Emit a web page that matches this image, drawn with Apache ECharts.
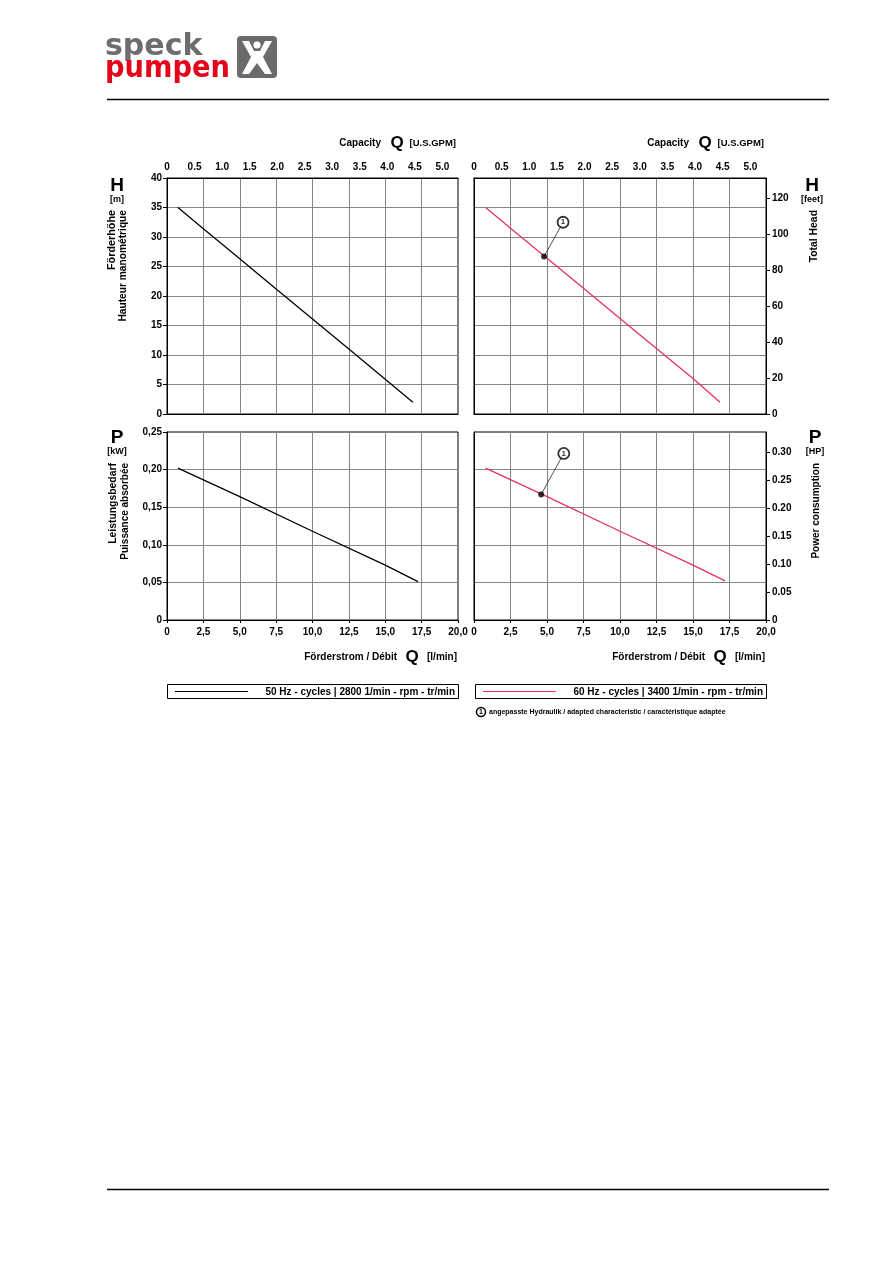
<!DOCTYPE html>
<html><head><meta charset="utf-8">
<script src="https://cdn.jsdelivr.net/npm/echarts@6/dist/echarts.min.js"></script>
<style>html,body{margin:0;padding:0;background:#fff}#c{width:893px;height:1263px}</style>
</head><body><div id="c"></div>
<script>
// ---- data ----
const gpmTickStep = 0.5;      // U.S. GPM top axis
const flowTickStep = 2.5;     // l/min
const headTickStep = 5;       // m
const feetTickStep = 20;      // feet
const powerTickStep = 0.05;   // kW
const hpTickStep = 0.05;      // HP

const q50H = [0.75, 2.5, 5, 7.5, 10, 12.5, 15, 16.9];
const head50 = [35, 31.4, 26.3, 21.2, 16.1, 11.0, 5.9, 2.0];
const q60H = [0.8, 2.5, 5, 7.5, 10, 12.5, 15, 16.85];
const head60 = [35, 31.5, 26.4, 21.3, 16.2, 11.1, 6.0, 2.0];

const q50P = [0.75, 5, 10, 15, 17.25];
const power50 = [0.202, 0.164, 0.118, 0.073, 0.051];
const q60P = [0.8, 5, 10, 15, 17.2];
const power60 = [0.202, 0.164, 0.118, 0.073, 0.052];

const mark60H = [4.8, 26.7];   // adapted characteristic point (Q, H)
const note60H = [6.1, 32.5];   // its label (Q, H)
const mark60P = [4.6, 0.167];  // (Q, P)
const note60P = [6.15, 0.2215];

const legend50 = '50 Hz - cycles | 2800 1/min - rpm - tr/min';
const legend60 = '60 Hz - cycles | 3400 1/min - rpm - tr/min';
const footnote = 'angepasste Hydraulik / adapted characteristic / caractéristique adaptée';

// unit conversions for the secondary axes
const LMIN_TO_GPM = 0.264172, M_TO_FT = 3.28084, KW_TO_HP = 1.34102;

// ---- styles ----
const FONT = '"Liberation Sans", Arial, sans-serif';
const BLACK = '#000', GRID = '#858585', RED = '#e5325e';
const zip = (a, b) => a.map((v, i) => [v, b[i]]);

const lab = (extra) => Object.assign({color: BLACK, fontFamily: FONT, fontWeight: 'bold', fontSize: 10}, extra || {});
const split = {show: true, showMinLine: false, showMaxLine: false, lineStyle: {color: GRID, width: 1}};
const axLine = {show: true, onZero: false, lineStyle: {color: BLACK, width: 1}};

const flowFmt = v => v === 0 ? '0' : v.toFixed(1).replace('.', ',');
const kwFmt = v => v === 0 ? '0' : v.toFixed(2).replace('.', ',');

function flowAxis(grid, labels) {
  return {type: 'value', gridIndex: grid, position: 'bottom', min: 0, max: 20, interval: flowTickStep,
    axisLine: axLine, axisTick: {show: labels, length: 3, lineStyle: {color: BLACK}},
    axisLabel: lab({show: labels, margin: 7, formatter: flowFmt}), splitLine: split};
}
function gpmAxis(grid) {
  return {type: 'value', gridIndex: grid, position: 'top', min: 0, max: 20 * LMIN_TO_GPM, interval: gpmTickStep,
    axisLine: axLine, axisTick: {show: false},
    axisLabel: lab({show: true, margin: 6, showMaxLabel: false, formatter: v => v === 0 ? '0' : v.toFixed(1)}),
    splitLine: {show: false}};
}

const grids = [
  {left: 167, top: 178, width: 291, height: 236},
  {left: 474, top: 178, width: 292, height: 236},
  {left: 167, top: 432, width: 291, height: 188},
  {left: 474, top: 432, width: 292, height: 188}
].map(g => Object.assign(g, {show: true, borderColor: BLACK, borderWidth: 1, backgroundColor: 'transparent', containLabel: false}));

const xAxis = [flowAxis(0, false), gpmAxis(0), flowAxis(1, false), gpmAxis(1), flowAxis(2, true), flowAxis(3, true)];

const yAxis = [
  {type: 'value', gridIndex: 0, position: 'left', min: 0, max: 40, interval: headTickStep, axisLine: axLine,
    axisTick: {show: true, length: 4, lineStyle: {color: BLACK}}, axisLabel: lab({margin: 5}), splitLine: split},
  {type: 'value', gridIndex: 1, position: 'left', min: 0, max: 40, interval: headTickStep, axisLine: axLine,
    axisTick: {show: false}, axisLabel: {show: false}, splitLine: split},
  {type: 'value', gridIndex: 1, position: 'right', min: 0, max: 40 * M_TO_FT, interval: feetTickStep, axisLine: axLine,
    axisTick: {show: true, length: 4, lineStyle: {color: BLACK}},
    axisLabel: lab({margin: 6, showMaxLabel: false}), splitLine: {show: false}},
  {type: 'value', gridIndex: 2, position: 'left', min: 0, max: 0.25, interval: powerTickStep, axisLine: axLine,
    axisTick: {show: true, length: 4, lineStyle: {color: BLACK}}, axisLabel: lab({margin: 5, formatter: kwFmt}), splitLine: split},
  {type: 'value', gridIndex: 3, position: 'left', min: 0, max: 0.25, interval: powerTickStep, axisLine: axLine,
    axisTick: {show: false}, axisLabel: {show: false}, splitLine: split},
  {type: 'value', gridIndex: 3, position: 'right', min: 0, max: 0.25 * KW_TO_HP, interval: hpTickStep, axisLine: axLine,
    axisTick: {show: true, length: 4, lineStyle: {color: BLACK}},
    axisLabel: lab({margin: 6, showMaxLabel: false, formatter: v => v === 0 ? '0' : v.toFixed(2)}), splitLine: {show: false}}
];

function curve(x, y, q, v, color) {
  return {type: 'line', xAxisIndex: x, yAxisIndex: y, data: zip(q, v), showSymbol: false, symbol: 'none',
    lineStyle: {color: color, width: 1.3}, z: 5, silent: true};
}
function note(x, y, pt, lb) {
  return [
    {type: 'line', xAxisIndex: x, yAxisIndex: y, data: [pt, lb], showSymbol: false, symbol: 'none',
      lineStyle: {color: '#222', width: 0.8}, z: 6, silent: true},
    {type: 'scatter', xAxisIndex: x, yAxisIndex: y, data: [pt], symbol: 'circle', symbolSize: 6,
      itemStyle: {color: BLACK}, z: 7, silent: true},
    {type: 'scatter', xAxisIndex: x, yAxisIndex: y, data: [lb], symbol: 'circle', symbolSize: 11,
      itemStyle: {color: '#fff', borderColor: BLACK, borderWidth: 1.8}, z: 8, silent: true,
      label: {show: true, position: 'inside', formatter: '1', color: BLACK, fontFamily: FONT, fontWeight: 'bold', fontSize: 8}}
  ];
}

const series = [
  curve(0, 0, q50H, head50, BLACK),
  curve(2, 1, q60H, head60, RED),
  curve(4, 3, q50P, power50, BLACK),
  curve(5, 4, q60P, power60, RED),
  ...note(2, 1, mark60H, note60H),
  ...note(5, 4, mark60P, note60P)
];

// ---- annotation text / decorations ----
const T = (x, y, text, o) => ({type: 'text', x: x, y: y, silent: true,
  style: Object.assign({text: text, fill: BLACK, font: 'bold 10px ' + FONT, align: 'left', verticalAlign: 'middle'}, o || {})});
const R = (x, y, text, o) => ({type: 'text', x: x, y: y, rotation: Math.PI / 2, silent: true,
  style: Object.assign({text: text, fill: BLACK, font: 'bold 10.4px ' + FONT, align: 'right', verticalAlign: 'middle'}, o || {})});

function capTitle(right) {
  return [
    T(right - 77, 143, 'Capacity', {align: 'right'}),
    T(right - 61, 143, 'Q', {align: 'center', font: 'bold 17px ' + FONT}),
    T(right - 2, 143, '[U.S.GPM]', {align: 'right', font: 'bold 9.5px ' + FONT})
  ];
}
function flowTitle(right) {
  return [
    T(right - 61, 657, 'Förderstrom / Débit', {align: 'right'}),
    T(right - 46, 657, 'Q', {align: 'center', font: 'bold 17px ' + FONT}),
    T(right - 1, 657, '[l/min]', {align: 'right'})
  ];
}
function legendBox(x, color, text) {
  return [
    {type: 'rect', shape: {x: x + 0.5, y: 684.5, width: 291, height: 14}, style: {fill: 'none', stroke: BLACK, lineWidth: 1}, silent: true},
    {type: 'line', shape: {x1: x + 8, y1: 691.5, x2: x + 81, y2: 691.5}, style: {stroke: color, lineWidth: 1}, silent: true},
    T(x + 288, 692, text, {align: 'right', font: 'bold 10px ' + FONT})
  ];
}

const graphic = [
  // logo
  {type: 'text', x: 105, y: 47, silent: true,
    style: {text: 'speck', fill: '#6d6d6d', font: 'bold 30px "DejaVu Sans", sans-serif', align: 'left', verticalAlign: 'middle'}},
  {type: 'text', x: 105, y: 69, scaleX: 0.91, silent: true,
    style: {text: 'pumpen', fill: '#e3051b', font: 'bold 30px "DejaVu Sans", sans-serif', align: 'left', verticalAlign: 'middle'}},
  {type: 'rect', shape: {x: 237, y: 36, width: 40, height: 42, r: 4}, style: {fill: '#6b6b6b'}, silent: true},
  {type: 'polygon', shape: {points: [[242, 41], [249, 41], [254, 51], [260, 51], [265, 41], [272, 41], [263, 57], [272, 74], [265, 74], [257, 63], [249, 74], [242, 74], [251, 57]]}, style: {fill: '#fff'}, silent: true},
  {type: 'circle', shape: {cx: 257, cy: 45, r: 3.6}, style: {fill: '#fff'}, silent: true},
  // rules
  {type: 'line', shape: {x1: 107, y1: 99.5, x2: 829, y2: 99.5}, style: {stroke: BLACK, lineWidth: 1.5}, silent: true},
  {type: 'line', shape: {x1: 107, y1: 1189.5, x2: 829, y2: 1189.5}, style: {stroke: BLACK, lineWidth: 1.5}, silent: true},
  // axis titles
  ...capTitle(458), ...capTitle(766),
  ...flowTitle(458), ...flowTitle(766),
  T(117, 186, 'H', {align: 'center', font: 'bold 19px ' + FONT}),
  T(117, 200, '[m]', {align: 'center', font: 'bold 9px ' + FONT}),
  R(112, 210, 'Förderhöhe', {font: 'bold 10.8px ' + FONT}),
  R(123, 210, 'Hauteur manométrique', {font: 'bold 10.2px ' + FONT}),
  T(812, 186, 'H', {align: 'center', font: 'bold 19px ' + FONT}),
  T(812, 200, '[feet]', {align: 'center', font: 'bold 9px ' + FONT}),
  R(814, 210, 'Total Head'),
  T(117, 438, 'P', {align: 'center', font: 'bold 19px ' + FONT}),
  T(117, 452, '[kW]', {align: 'center', font: 'bold 9px ' + FONT}),
  R(113, 463, 'Leistungsbedarf'),
  R(125, 463, 'Puissance absorbée', {font: 'bold 10px ' + FONT}),
  T(815, 438, 'P', {align: 'center', font: 'bold 19px ' + FONT}),
  T(815, 452, '[HP]', {align: 'center', font: 'bold 9px ' + FONT}),
  R(816, 463, 'Power consumption', {font: 'bold 10px ' + FONT}),
  // legends
  ...legendBox(167, BLACK, legend50),
  ...legendBox(475, RED, legend60),
  {type: 'circle', shape: {cx: 481, cy: 712, r: 4.5}, style: {fill: '#fff', stroke: BLACK, lineWidth: 1.5}, silent: true},
  T(481, 712.5, '1', {align: 'center', font: 'bold 7px ' + FONT}),
  T(489, 712.5, footnote, {font: 'bold 7px ' + FONT})
];

const chart = echarts.init(document.getElementById('c'), null, {renderer: 'canvas'});
chart.setOption({
  animation: false,
  backgroundColor: '#fff',
  grid: grids, xAxis: xAxis, yAxis: yAxis, series: series, graphic: graphic
});
</script></body></html>
